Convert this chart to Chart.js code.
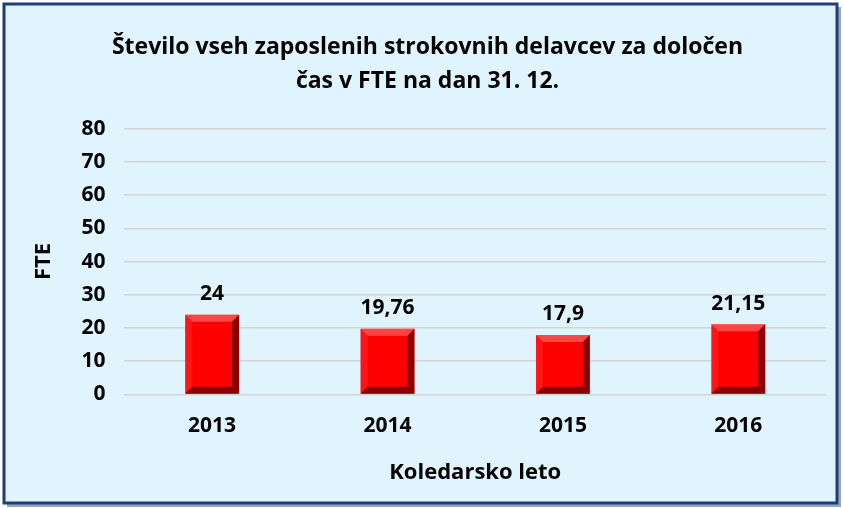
<!DOCTYPE html>
<html>
<head>
<meta charset="utf-8">
<script src="https://cdn.jsdelivr.net/npm/chart.js@4"></script>
<style>
  html, body { margin: 0; padding: 0; background: #ffffff; }
  #wrap { width: 843px; height: 509px; position: relative; }
</style>
</head>
<body>
<div id="wrap"><canvas id="myChart"></canvas></div>
<script>
// podatki
const years = ["2013", "2014", "2015", "2016"];
const fteValues = [24, 19.76, 17.9, 21.15];
const yTicks = [0, 10, 20, 30, 40, 50, 60, 70, 80];

const fontName = "'Open Sans', sans-serif";

// okvir in ozadje
const framePlugin = {
  id: "frame",
  beforeDraw(chart) {
    const c = chart.ctx;
    c.save();
    c.fillStyle = "#ffffff";
    c.fillRect(0, 0, chart.width, chart.height);
    // senca
    c.fillStyle = "#9aa6b8";
    c.fillRect(7, 7, chart.width - 9, chart.height - 9);
    c.fillStyle = "#dff4fd";
    c.fillRect(4, 4, chart.width - 10, chart.height - 10);
    c.strokeStyle = "#1f3c7a";
    c.lineWidth = 3;
    c.strokeRect(4, 4, chart.width - 10, chart.height - 10);
    c.restore();
  }
};

// 3D "bevel" efekt na stolpcih
const bevelPlugin = {
  id: "bevel",
  afterDatasetsDraw(chart) {
    const c = chart.ctx;
    chart.getDatasetMeta(0).data.forEach(bar => {
      const l = bar.x - bar.width / 2, r = bar.x + bar.width / 2;
      const t = bar.y, b = bar.base;
      const d = Math.min(7, (b - t) / 3);
      c.save();
      c.fillStyle = "rgba(255,140,140,0.5)";
      c.beginPath(); c.moveTo(l, t); c.lineTo(r, t); c.lineTo(r - d, t + d); c.lineTo(l + d, t + d); c.closePath(); c.fill();
      c.fillStyle = "rgba(255,70,70,0.3)";
      c.beginPath(); c.moveTo(l, t); c.lineTo(l + d, t + d); c.lineTo(l + d, b - d); c.lineTo(l, b); c.closePath(); c.fill();
      c.fillStyle = "rgba(60,0,0,0.6)";
      c.beginPath(); c.moveTo(r, t); c.lineTo(r, b); c.lineTo(r - d, b - d); c.lineTo(r - d, t + d); c.closePath(); c.fill();
      c.fillStyle = "rgba(70,0,0,0.65)";
      c.beginPath(); c.moveTo(l, b); c.lineTo(r, b); c.lineTo(r - d, b - d); c.lineTo(l + d, b - d); c.closePath(); c.fill();
      c.restore();
    });
  }
};

// oznake vrednosti
const labelPlugin = {
  id: "valueLabels",
  afterDatasetsDraw(chart) {
    const c = chart.ctx;
    c.save();
    c.font = "bold 21px " + fontName;
    c.fillStyle = "#000000";
    c.textAlign = "center";
    c.textBaseline = "bottom";
    chart.getDatasetMeta(0).data.forEach((bar, i) => {
      const txt = String(fteValues[i]).replace(".", ",");
      c.fillText(txt, bar.x, bar.y - 10);
    });
    c.restore();
  }
};

window.onload = function() {
  const ctx = document.getElementById("myChart").getContext("2d");

  const data = {
    labels: years,
    datasets: [
      {
        label: "FTE",
        data: fteValues,
        backgroundColor: "#ff0000",
        borderWidth: 0,
        barPercentage: 0.307,
        categoryPercentage: 1.0
      }
    ]
  };

  new Chart(ctx, {
    type: "bar",
    data: data,
    options: {
      responsive: true,
      maintainAspectRatio: false,
      animation: false,
      layout: { padding: { left: 29, right: 17, top: 14, bottom: 19 } },
      plugins: {
        legend: { display: false },
        tooltip: { enabled: false },
        title: {
          display: true,
          text: ["Število vseh zaposlenih strokovnih delavcev za določen", "čas v FTE na dan 31. 12."],
          color: "#000000",
          font: { family: fontName, size: 23, weight: "bold", lineHeight: 1.45 },
          padding: { top: 17, bottom: 31 }
        }
      },
      scales: {
        x: {
          grid: { display: false },
          border: { display: false },
          ticks: { color: "#000", font: { family: fontName, size: 21, weight: "bold" }, padding: 11 },
          title: {
            display: true,
            text: "Koledarsko leto",
            color: "#000",
            font: { family: fontName, size: 22, weight: "bold" },
            padding: { top: 10 }
          }
        },
        y: {
          min: 0,
          max: 80,
          afterBuildTicks: axis => { axis.ticks = yTicks.map(v => ({ value: v })); },
          grid: { color: "#d4d4d4", lineWidth: 1.5, drawTicks: false },
          border: { display: false },
          ticks: { color: "#000", font: { family: fontName, size: 21, weight: "bold" }, padding: 19 },
          title: {
            display: true,
            text: "FTE",
            color: "#000",
            font: { family: fontName, size: 22, weight: "bold" },
            padding: { top: 2, bottom: 5 }
          }
        }
      }
    },
    plugins: [framePlugin, bevelPlugin, labelPlugin]
  });
};
</script>
</body>
</html>
